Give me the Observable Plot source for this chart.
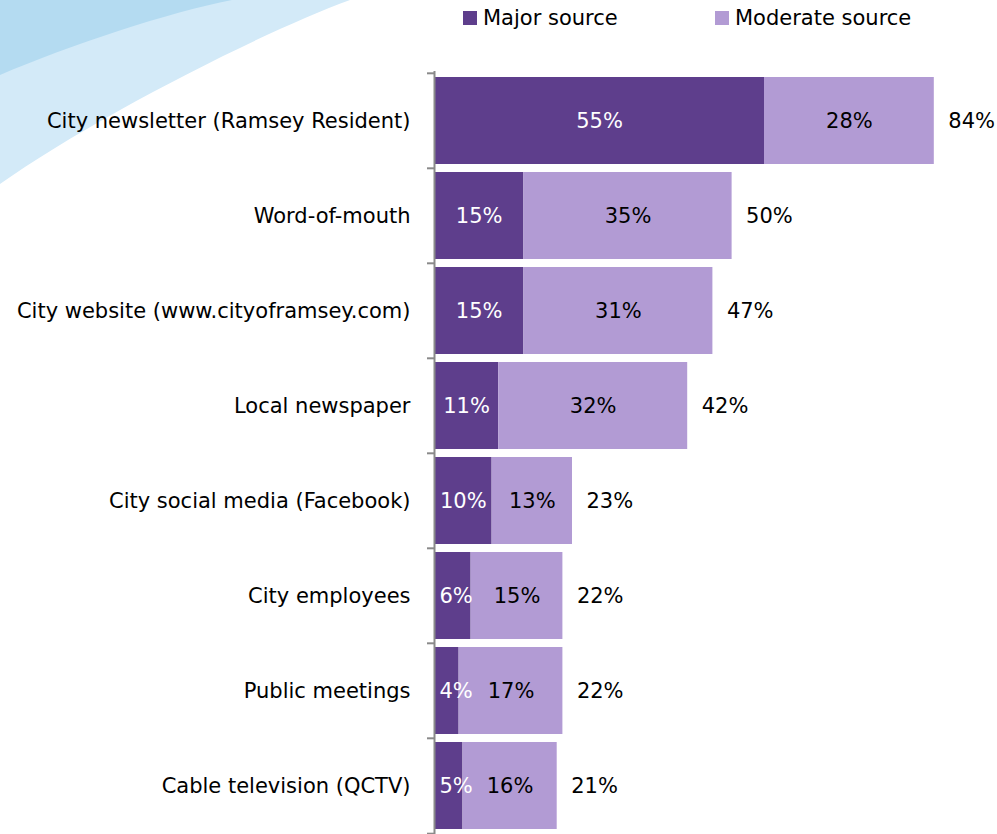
<!DOCTYPE html>
<html><head><meta charset="utf-8">
<script src="https://cdn.jsdelivr.net/npm/d3@7"></script>
<script src="https://cdn.jsdelivr.net/npm/@observablehq/plot@0.6"></script>
<style>
body{margin:0;background:#fff;overflow:hidden}
#wrap{position:relative;width:997px;height:834px;font-family:"DejaVu Sans",sans-serif;color:#000;background:#fff}
#deco{position:absolute;top:0;left:0}
#chart{position:absolute;top:0;left:0}
#legend{position:absolute;top:0;left:0;width:997px;height:40px;font-size:21px}
.item{position:absolute;top:6px;display:flex;align-items:center;white-space:nowrap}
.sw{width:14px;height:14px;margin-right:6px}
</style></head><body>
<div id="wrap"><div id="deco"></div><div id="chart"></div><div id="legend"></div></div>
<script>
const categories = [
  "City newsletter (Ramsey Resident)",
  "Word-of-mouth",
  "City website (www.cityoframsey.com)",
  "Local newspaper",
  "City social media (Facebook)",
  "City employees",
  "Public meetings",
  "Cable television (QCTV)"
];
const majorValues    = [55.0, 14.9, 14.9, 10.7, 9.6, 6.1, 4.1, 4.75];
const moderateValues = [28.3, 34.7, 31.5, 31.5, 13.4, 15.3, 17.3, 15.7];
const majorLabels    = ["55%","15%","15%","11%","10%","6%","4%","5%"];
const moderateLabels = ["28%","35%","31%","32%","13%","15%","17%","16%"];
const totalLabels    = ["84%","50%","47%","42%","23%","22%","22%","21%"];
const seriesNames  = ["Major source","Moderate source"];
const seriesColors = ["#5e3e8c","#b29bd4"];

const rows = [];
categories.forEach((c, i) => {
  rows.push({cat: c, series: seriesNames[0], value: majorValues[i]});
  rows.push({cat: c, series: seriesNames[1], value: moderateValues[i]});
});
const labelRows = categories.map((c, i) => ({
  cat: c, major: majorValues[i], moderate: moderateValues[i],
  majorLabel: majorLabels[i], moderateLabel: moderateLabels[i], totalLabel: totalLabels[i]
}));

const W = 997, H = 834, MT = 71, MB = 0;
const step = (H - MT - MB) / categories.length;

// decorative background swoosh (behind the chart)
const deco = d3.select("#deco").append("svg").attr("width", W).attr("height", H);
deco.append("path").attr("d", "M0,0 H350 C260,33 90,120 0,184 Z").attr("fill", "#d3eaf8");
deco.append("path").attr("d", "M0,0 H232 C170,12 70,45 0,75 Z").attr("fill", "#b4dbf1");

const narrow = d => d.major < 8;

const chart = Plot.plot({
  width: W, height: H,
  marginLeft: 434, marginRight: 23, marginTop: MT, marginBottom: MB,
  style: {fontFamily: "DejaVu Sans, sans-serif", fontSize: "21px", color: "#000", background: "transparent"},
  x: {domain: [0, 90], axis: null},
  y: {domain: categories, paddingInner: 0.085, paddingOuter: 0.0425, tickSize: 0, tickPadding: 24, label: null},
  color: {domain: seriesNames, range: seriesColors},
  marks: [
    Plot.barX(rows, Plot.stackX({y: "cat", x: "value", fill: "series", order: seriesNames})),
    Plot.ruleX([0], {stroke: "#8a8a8a", strokeWidth: 2}),
    Plot.ruleY(categories, {y: d => d, x1: 0, x2: 0, insetLeft: -7, dy: -step / 2, stroke: "#8a8a8a", strokeWidth: 2}),
    Plot.ruleY(categories.slice(-1), {y: d => d, x1: 0, x2: 0, insetLeft: -7, dy: step / 2, stroke: "#8a8a8a", strokeWidth: 2}),
    Plot.text(labelRows.filter(d => !narrow(d)), {y: "cat", x: d => d.major / 2, text: "majorLabel", fill: "white", fontSize: 21}),
    Plot.text(labelRows.filter(narrow), {y: "cat", x: 0, text: "majorLabel", fill: "white", fontSize: 21, textAnchor: "start", dx: 5}),
    Plot.text(labelRows, {y: "cat", x: d => d.major + d.moderate / 2, text: "moderateLabel", fill: "#000", fontSize: 21}),
    Plot.text(labelRows, {y: "cat", x: d => d.major + d.moderate, text: "totalLabel", fill: "#000", fontSize: 21, textAnchor: "start", dx: 14})
  ]
});
document.getElementById("chart").appendChild(chart);

const legend = document.getElementById("legend");
const legendLeft = [463, 715];
seriesNames.forEach((s, i) => {
  const it = document.createElement("div");
  it.className = "item";
  it.style.left = legendLeft[i] + "px";
  const sw = document.createElement("span");
  sw.className = "sw";
  sw.style.background = seriesColors[i];
  const tx = document.createElement("span");
  tx.textContent = s;
  it.appendChild(sw); it.appendChild(tx);
  legend.appendChild(it);
});
</script>
</body></html>
